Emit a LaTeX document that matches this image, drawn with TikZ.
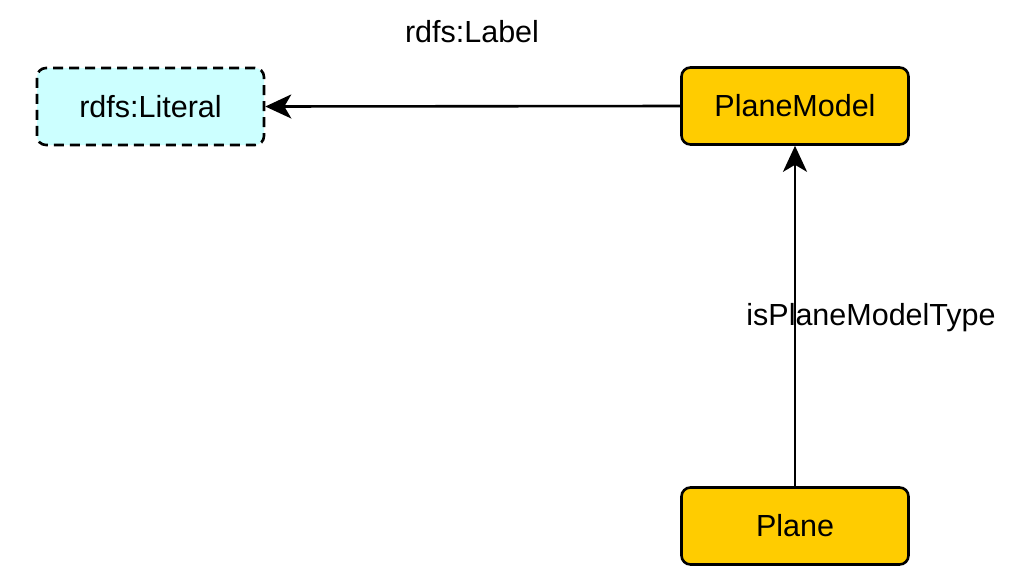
\documentclass[tikz,border=0pt]{standalone}
\usepackage{fontspec}
\setmainfont{Liberation Sans}
\usetikzlibrary{arrows.meta}
\definecolor{clsyellow}{HTML}{FFCC00}
\definecolor{litcyan}{HTML}{CCFFFF}
\begin{document}
\begin{tikzpicture}[x=1pt,y=-1pt,
  box/.style={draw=black,line width=2.6pt,rounded corners=9pt,minimum width=227pt,minimum height=77pt,inner sep=0pt,font=\fontsize{30.5}{34}\selectfont},
  cls/.style={box,fill=clsyellow},
  lit/.style={box,fill=litcyan,dash pattern=on 10pt off 6pt},
  conn/.style={line width=2.6pt,-{Stealth[length=26pt,width=24pt,inset=7pt]}},
  lbl/.style={font=\fontsize{30.5}{34}\selectfont,inner sep=0pt}]
\useasboundingbox (0,0) rectangle (1024,587);
\node[lit] (literal) at (150.5,106.5) {rdfs:Literal};
\node[cls] (pm) at (795,106) {PlaneModel};
\node[cls] (plane) at (795,526) {Plane};
\draw[conn] (pm.west) -- (literal.east);
\draw[conn] (plane.north) -- (pm.south);
\node[lbl] (l1) at (472,32) {rdfs:Label};
\node[lbl] (l2) at (871,318) {isPlaneModelType};
\end{tikzpicture}
\end{document}
